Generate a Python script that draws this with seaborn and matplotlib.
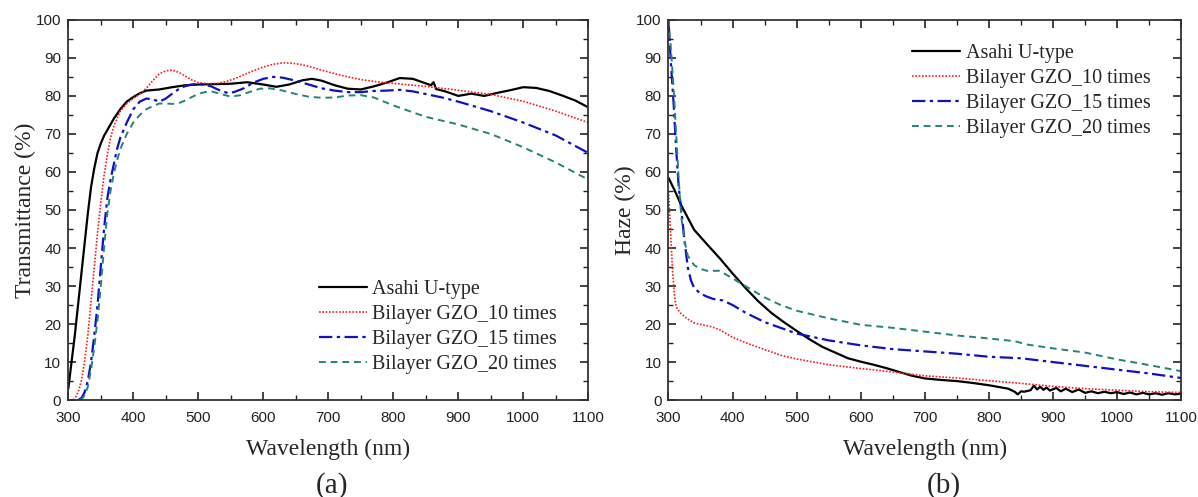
import matplotlib
matplotlib.use("Agg")
import matplotlib.pyplot as plt
import seaborn as sns
from matplotlib.ticker import MultipleLocator

# ---------------- data: panel (a) transmittance ----------------
wl_asahi_T = [300, 305, 310, 315, 320, 325, 330, 335, 340, 345, 350, 355, 360, 370, 380, 390, 400, 410, 420, 440, 460, 480,
              500, 525, 550, 575, 600, 620, 640, 660, 675, 690, 710, 730, 750, 770, 790, 810, 830, 850, 858, 862, 866,
              880, 900, 920, 940, 960, 980, 1000, 1020, 1040, 1060, 1080, 1100]
T_asahi = [3, 10, 17, 25, 33, 41, 49, 56, 61, 65, 67.5, 69.5, 71, 74, 76.5, 78.5, 79.7, 80.7, 81.4, 81.7, 82.3, 82.8,
           83.0, 83.1, 83.2, 83.6, 83.0, 82.4, 83.0, 84.1, 84.5, 84.0, 82.8, 81.9, 81.7, 82.5, 83.5, 84.7, 84.5, 83.3, 82.8, 83.6, 81.8,
           81.2, 80.0, 80.6, 80.0, 80.8, 81.5, 82.3, 82.1, 81.3, 80.1, 78.8, 77.0]

wl_10 = [308, 312, 316, 320, 325, 330, 335, 340, 345, 350, 355, 360, 365, 370, 380, 390, 400, 410, 420, 430, 440, 450, 460,
         470, 480, 490, 500, 515, 530, 545, 560, 580, 600, 615, 630, 645, 660, 680, 700, 725, 750, 775, 800, 850, 900, 950,
         1000, 1050, 1100]
T_10 = [0, 1, 2.5, 5, 10, 17, 26, 35, 44, 52, 59, 64.5, 69, 72, 76, 78, 79.3, 80.5, 82, 84, 85.8, 86.6, 86.8,
        86.2, 85.2, 84.2, 83.5, 83.2, 83.3, 83.9, 84.8, 86.3, 87.6, 88.3, 88.7, 88.6, 88.2, 87.3, 86.3, 85.2, 84.3, 83.7, 83.3, 82.5, 81.5, 80.4,
        78.6, 76.0, 73.0]

wl_15 = [315, 320, 325, 330, 335, 340, 345, 350, 355, 360, 365, 370, 375, 380, 390, 400, 410, 420, 430, 440, 450, 460, 470,
         480, 490, 500, 510, 520, 535, 545, 555, 570, 585, 600, 615, 630, 650, 670, 690, 710, 730, 750, 770, 790, 810, 830,
         850, 875, 900, 950, 1000, 1050, 1100]
T_15 = [0, 0.5, 2, 5, 10, 17, 25, 35, 45, 53, 58, 62, 66, 69, 73, 76.5, 78.5, 79.3, 79.1, 78.5, 79.3, 80.6, 81.8,
        82.6, 83.0, 83.1, 83.0, 82.5, 81.3, 80.8, 81.0, 82.0, 83.5, 84.5, 85.0, 84.8, 84.0, 83.0, 82.0, 81.4, 81.0, 81.0, 81.3, 81.4, 81.6, 81.2,
        80.5, 79.6, 78.5, 76.0, 73.0, 69.6, 65.0]

wl_20 = [318, 322, 326, 330, 335, 340, 345, 350, 355, 360, 365, 370, 375, 380, 390, 400, 410, 420, 430, 440, 450, 460, 470,
         480, 490, 500, 510, 520, 535, 550, 565, 580, 595, 610, 630, 650, 670, 690, 710, 730, 750, 770, 800, 850, 900,
         950, 1000, 1050, 1100]
T_20 = [0, 0.5, 1.5, 3.5, 8, 14, 21, 30, 40, 49, 55, 59.5, 63, 66, 70, 73, 75, 76.5, 77.3, 78.0, 78.0, 77.9, 78.1,
        78.8, 79.7, 80.5, 81.0, 81.2, 80.5, 79.8, 80.2, 81.1, 81.9, 82.0, 81.4, 80.5, 79.8, 79.5, 79.6, 80.1, 80.2, 79.6, 77.5, 74.5, 72.5,
        70.0, 66.5, 62.5, 58.0]

# ---------------- data: panel (b) haze ----------------
wl_asahi_H = [300, 310, 320, 330, 340, 360, 380, 400, 420, 440, 460, 480, 500, 520, 540, 560, 580, 600, 620, 640, 660,
              680, 700, 725, 750, 775, 800, 820, 830, 840, 845, 850, 855, 865, 870, 875, 880, 885, 890, 895, 905, 912, 920,
              930, 940, 950, 960, 970, 980, 990, 1000, 1010, 1020, 1030, 1040, 1050, 1060, 1070, 1080, 1090, 1100]
H_asahi = [58.5, 55, 51.2, 48, 44.8, 41, 37.3, 33.3, 29.5, 26, 23, 20.5, 18.2, 16, 14, 12.5, 11, 10.1, 9.3, 8.4, 7.4,
           6.4, 5.7, 5.3, 5.0, 4.5, 3.9, 3.3, 3.0, 2.2, 1.5, 2.3, 2.2, 2.6, 3.8, 2.8, 3.5, 2.7, 3.3, 2.5, 3.2, 2.3, 3.0,
           2.1, 2.8, 1.9, 2.3, 1.8, 2.2, 1.8, 2.1, 1.6, 2.0, 1.5, 1.9, 1.5, 1.8, 1.4, 1.8, 1.5, 1.7]

wl_10_H = [300, 303, 306, 309, 312, 318, 328, 340, 352, 365, 380, 400, 425, 450, 475, 500, 550, 600, 650, 700, 750, 800,
           850, 900, 950, 1000, 1050, 1100]
H_10 = [55, 45, 35, 28, 24.5, 23, 21.5, 20.3, 19.8, 19.4, 18.5, 16.5, 14.8, 13.3, 11.8, 10.8, 9.3, 8.3, 7.4, 6.4, 5.8,
        5.1, 4.4, 3.6, 3.0, 2.6, 2.2, 2.0]

wl_15_H = [300, 304, 308, 312, 316, 320, 325, 330, 335, 340, 350, 360, 370, 385, 400, 420, 450, 475, 500, 550, 600, 650,
           700, 750, 800, 850, 900, 950, 1000, 1050, 1100]
H_15 = [100, 88, 78, 66, 56, 50, 42, 35, 31.5, 29.5, 28.0, 27.2, 26.6, 26.2, 25, 23, 20.5, 19, 17.5, 15.7, 14.4, 13.4,
        12.8, 12.2, 11.4, 11.0, 10.0, 9.0, 8.0, 7.0, 5.8]

wl_20_H = [300, 304, 308, 312, 316, 320, 325, 330, 340, 350, 360, 380, 400, 420, 450, 475, 500, 550, 600, 650, 700, 750,
           800, 840, 860, 900, 950, 1000, 1050, 1100]
H_20 = [100, 92, 82, 70, 58, 48, 42, 38, 35.5, 34.5, 34, 34, 32, 30, 27, 25, 23.5, 21.5, 19.8, 19.0, 18.0, 17.0,
        16.2, 15.5, 14.6, 13.6, 12.5, 10.7, 9.2, 7.6]

labels = ["Asahi U-type", "Bilayer GZO_10 times", "Bilayer GZO_15 times", "Bilayer GZO_20 times"]
x_ticks = [300, 400, 500, 600, 700, 800, 900, 1000, 1100]
y_ticks = [0, 10, 20, 30, 40, 50, 60, 70, 80, 90, 100]

# ---------------- style ----------------
sns.set_style("ticks")
serif = ["Liberation Serif", "DejaVu Serif"]
sans = ["Liberation Sans", "DejaVu Sans"]
plt.rcParams["font.family"] = sans

colors = ["#000000", "#ff1a1a", "#1010c8", "#21857a"]
styles = ["-", (0, (1, 1)), (0, (6, 2, 1.5, 2)), (0, (3.5, 2.5))]
widths = [1.6, 1.2, 1.6, 1.4]

fig = plt.figure(figsize=(11.98, 4.97), dpi=100)
axA = fig.add_axes([0.057, 0.195, 0.434, 0.765])
axB = fig.add_axes([0.558, 0.195, 0.428, 0.765])

seriesA = [(wl_asahi_T, T_asahi), (wl_10, T_10), (wl_15, T_15), (wl_20, T_20)]
seriesB = [(wl_asahi_H, H_asahi), (wl_10_H, H_10), (wl_15_H, H_15), (wl_20_H, H_20)]

for ax, series in ((axA, seriesA), (axB, seriesB)):
    for (xs, ys), lab, c, ls, lw in zip(series, labels, colors, styles, widths):
        sns.lineplot(x=xs, y=ys, ax=ax, color=c, linestyle=ls, linewidth=lw, label=lab,
                     sort=False, estimator=None)
    ax.set_xlim(300, 1100)
    ax.set_ylim(0, 100)
    ax.set_xticks(x_ticks)
    ax.set_yticks(y_ticks)
    ax.xaxis.set_minor_locator(MultipleLocator(50))
    ax.yaxis.set_minor_locator(MultipleLocator(5))
    ax.tick_params(which="both", direction="in", top=True, right=True, labelsize=11, colors="#222222")
    ax.tick_params(which="major", length=6, width=1.2)
    ax.tick_params(which="minor", length=3.5, width=1.0)
    ax.tick_params(axis="x", which="major", pad=8)
    ax.tick_params(axis="y", which="major", pad=5)
    for sp in ax.spines.values():
        sp.set_linewidth(1.3)
        sp.set_color("#333333")
    ax.set_xlabel("Wavelength (nm)", fontsize=17, family=serif, labelpad=10)

axA.set_ylabel("Transmittance (%)", fontsize=17, family=serif, labelpad=0)
axB.set_ylabel("Haze (%)", fontsize=17, family=serif, labelpad=0)

legA = axA.legend(loc="lower right", bbox_to_anchor=(0.975, 0.02), frameon=False, handlelength=2.4,
                  handletextpad=0.25, labelspacing=0.3, prop={"family": serif, "size": 14.5})
legB = axB.legend(loc="upper right", bbox_to_anchor=(0.975, 0.985), frameon=False, handlelength=2.4,
                  handletextpad=0.25, labelspacing=0.3, prop={"family": serif, "size": 14.5})

fig.text(0.277, 0.024, "(a)", ha="center", va="center", fontsize=21, family=serif)
fig.text(0.788, 0.024, "(b)", ha="center", va="center", fontsize=21, family=serif)

fig.savefig("out.png", dpi=100, facecolor="white")
